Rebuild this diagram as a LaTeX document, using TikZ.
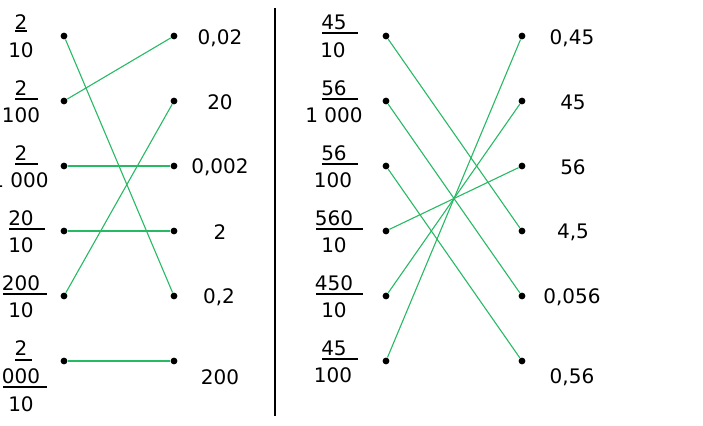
\documentclass[tikz,border=0pt]{standalone}
\usepackage{fontspec}
\setmainfont{DejaVu Sans}
\definecolor{linkgreen}{RGB}{40,185,100}
\tikzset{
  dot/.style={circle, fill, inner sep=0pt, minimum size=3.4pt},
  txt/.style={inner sep=0pt, font=\fontsize{10}{12}\selectfont},
  bar/.style={line width=0.9pt},
  link/.style={linkgreen, line width=0.55pt}
}
\begin{document}
\begin{tikzpicture}[x=0.5pt, y=-0.5pt]
\useasboundingbox (0,0) rectangle (703,426);
% left block: fractions
\node[txt] (fa1n) at (21,22){2};
\draw[bar] (15,31) -- (27,31);
\node[txt] (fa1d) at (21,50){10};
\node[txt] (fa2n) at (21,88){2};
\draw[bar] (15,99) -- (38,99);
\node[txt] (fa2d) at (21,115){100};
\node[txt] (fa3n) at (21,153){2};
\draw[bar] (15,164) -- (38,164);
\node[txt] (fa3d) at (20,180){1 000};
\node[txt] (fa4n) at (21,218){20};
\draw[bar] (9,229) -- (45,229);
\node[txt] (fa4d) at (21,245){10};
\node[txt] (fa5n) at (21,283){200};
\draw[bar] (3,294) -- (47,294);
\node[txt] (fa5d) at (21,310){10};
\node[txt] (fa6n) at (21,348){2};
\draw[bar] (15,360) -- (32,360);
\node[txt] (fa6m) at (21,376){000};
\draw[bar] (3,387) -- (47,387);
\node[txt] (fa6d) at (21,404){10};
% left block: dots
\node[dot] (la1) at (64,36){};
\node[dot] (la2) at (64,101){};
\node[dot] (la3) at (64,166){};
\node[dot] (la4) at (64,231){};
\node[dot] (la5) at (64,296){};
\node[dot] (la6) at (64,361){};
\node[dot] (ra1) at (174,36){};
\node[dot] (ra2) at (174,101){};
\node[dot] (ra3) at (174,166){};
\node[dot] (ra4) at (174,231){};
\node[dot] (ra5) at (174,296){};
\node[dot] (ra6) at (174,361){};
% left block: decimals
\node[txt] (va1) at (220,38){0,02};
\node[txt] (va2) at (220,102){20};
\node[txt] (va3) at (220,167){0,002};
\node[txt] (va4) at (220,232){2};
\node[txt] (va5) at (219,297){0,2};
\node[txt] (va6) at (220,377){200};
\draw[link] (la1) -- (ra5);
\draw[link] (la2) -- (ra1);
\draw[link] (la3) -- (ra3);
\draw[link] (la4) -- (ra4);
\draw[link] (la5) -- (ra2);
\draw[link] (la6) -- (ra6);
% separator
\coordinate (septop) at (275,8);
\coordinate (sepbot) at (275,416);
\draw[line width=0.9pt] (septop) -- (sepbot);
% right block: fractions
\node[txt] (fb1n) at (334,22){45};
\draw[bar] (322,33) -- (358,33);
\node[txt] (fb1d) at (333,50){10};
\node[txt] (fb2n) at (334,88){56};
\draw[bar] (322,99) -- (358,99);
\node[txt] (fb2d) at (334,115){1 000};
\node[txt] (fb3n) at (334,153){56};
\draw[bar] (322,164) -- (358,164);
\node[txt] (fb3d) at (333,180){100};
\node[txt] (fb4n) at (334,218){560};
\draw[bar] (316,229) -- (363,229);
\node[txt] (fb4d) at (334,245){10};
\node[txt] (fb5n) at (334,283){450};
\draw[bar] (316,294) -- (363,294);
\node[txt] (fb5d) at (334,310){10};
\node[txt] (fb6n) at (334,348){45};
\draw[bar] (322,359) -- (358,359);
\node[txt] (fb6d) at (333,375){100};
% right block: dots
\node[dot] (lb1) at (386,36){};
\node[dot] (lb2) at (386,101){};
\node[dot] (lb3) at (386,166){};
\node[dot] (lb4) at (386,231){};
\node[dot] (lb5) at (386,296){};
\node[dot] (lb6) at (386,361){};
\node[dot] (rb1) at (522,36){};
\node[dot] (rb2) at (522,101){};
\node[dot] (rb3) at (522,166){};
\node[dot] (rb4) at (522,231){};
\node[dot] (rb5) at (522,296){};
\node[dot] (rb6) at (522,361){};
% right block: decimals
\node[txt] (vb1) at (572,38){0,45};
\node[txt] (vb2) at (573,102){45};
\node[txt] (vb3) at (573,167){56};
\node[txt] (vb4) at (573,232){4,5};
\node[txt] (vb5) at (572,297){0,056};
\node[txt] (vb6) at (572,377){0,56};
\draw[link] (lb1) -- (rb4);
\draw[link] (lb2) -- (rb5);
\draw[link] (lb3) -- (rb6);
\draw[link] (lb4) -- (rb3);
\draw[link] (lb5) -- (rb2);
\draw[link] (lb6) -- (rb1);

\end{tikzpicture}
\end{document}
